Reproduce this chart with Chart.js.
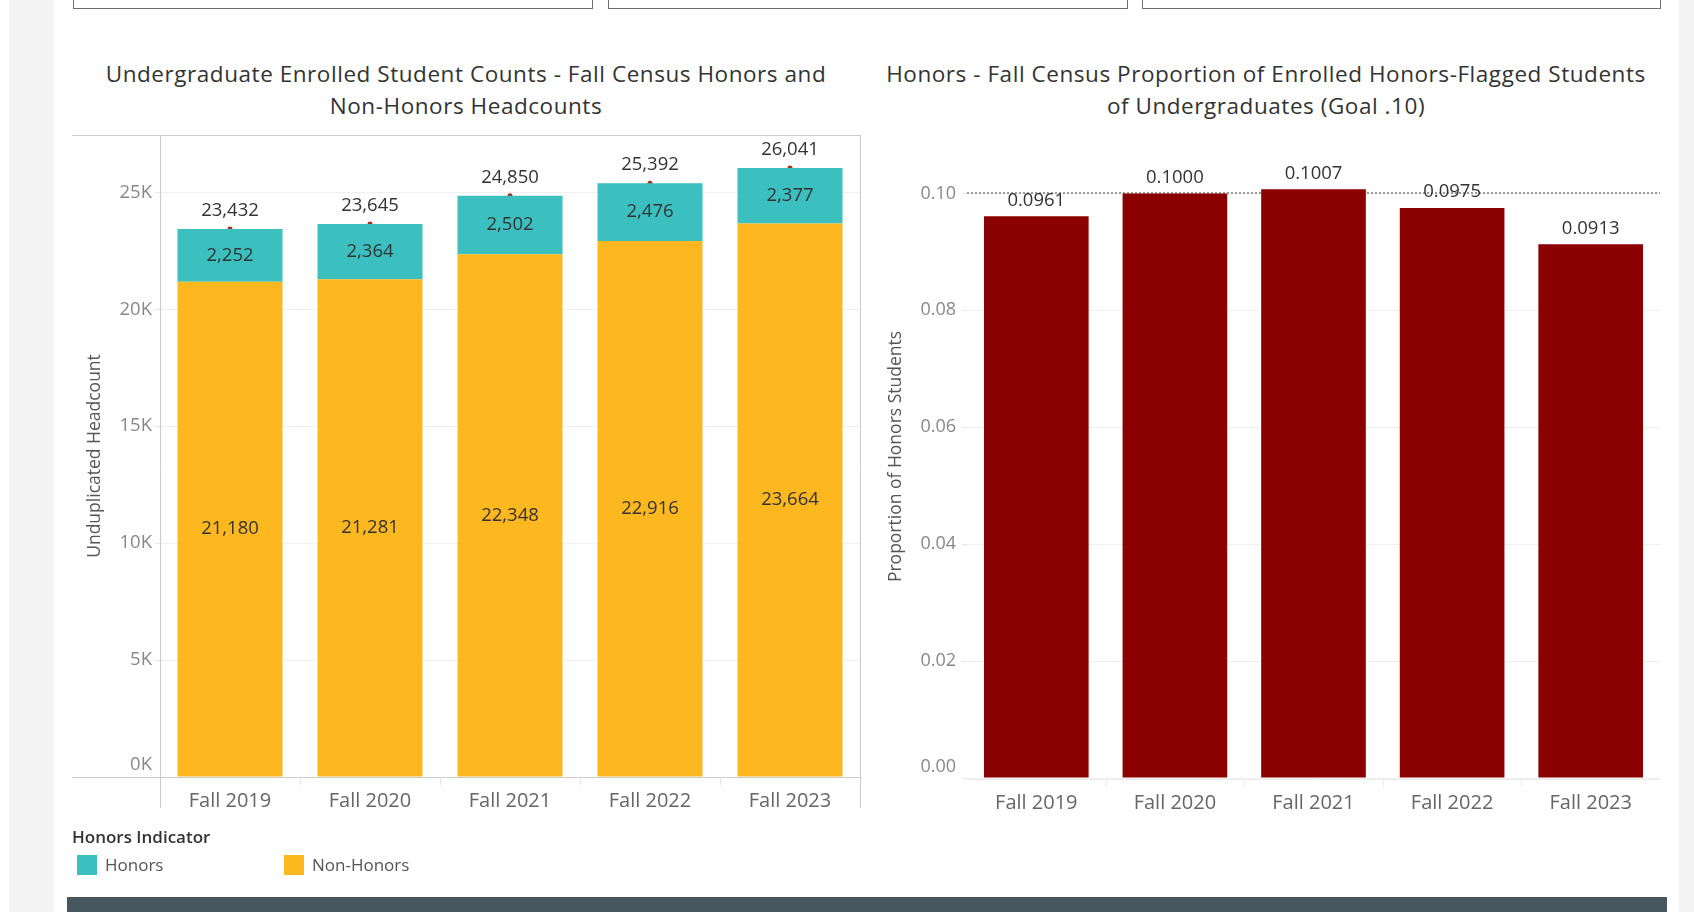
<!DOCTYPE html>
<html>
<head>
<meta charset="utf-8">
<title>Honors Enrollment</title>
<script src="https://cdn.jsdelivr.net/npm/chart.js"></script>
<style>
  body { margin: 0; width: 1694px; height: 912px; background: #fff; position: relative; overflow: hidden; font-family: "Open Sans", sans-serif; }
  .strip { position: absolute; top: 0; height: 912px; background: #f4f4f4; }
  .filter { position: absolute; top: -30px; height: 39px; border: 1.5px solid #6e6e6e; border-top: none; box-sizing: border-box; }
  .title { position: absolute; top: 58px; width: 820px; text-align: center; font-size: 22.5px; letter-spacing: 0.55px; line-height: 32px; color: #333; }
  canvas { position: absolute; }
  .legend-title { position: absolute; left: 72px; top: 825px; font-size: 17px; font-weight: 600; color: #333; }
  .legend-item { position: absolute; top: 855px; height: 20px; line-height: 20px; font-size: 17px; color: #555; }
  .legend-item span { display: inline-block; width: 20px; height: 20px; vertical-align: top; margin-right: 8px; }
  .footer { position: absolute; left: 67px; top: 897px; width: 1600px; height: 15px; background: #46575f; }
</style>
</head>
<body>
  <div class="strip" style="left:9px; width:45px;"></div>
  <div class="strip" style="left:1679px; width:15px;"></div>
  <div class="filter" style="left:73px; width:520px;"></div>
  <div class="filter" style="left:608px; width:520px;"></div>
  <div class="filter" style="left:1142px; width:519px;"></div>

  <div class="title" style="left:56px;">Undergraduate Enrolled Student Counts - Fall Census Honors and<br>Non-Honors Headcounts</div>
  <div class="title" style="left:856px;">Honors - Fall Census Proportion of Enrolled Honors-Flagged Students<br>of Undergraduates (Goal .10)</div>

  <canvas id="countChart" width="810" height="790" style="left:60px; top:40px;"></canvas>
  <canvas id="propChart" width="810" height="790" style="left:870px; top:40px;"></canvas>

  <div class="legend-title">Honors Indicator</div>
  <div class="legend-item" style="left:77px;"><span style="background:#3bbfbf;"></span>Honors</div>
  <div class="legend-item" style="left:284px;"><span style="background:#fdb71f;"></span>Non-Honors</div>

  <div class="footer"></div>

<script>
const years = ['Fall 2019', 'Fall 2020', 'Fall 2021', 'Fall 2022', 'Fall 2023'];
const honors = [2252, 2364, 2502, 2476, 2377];
const nonHonors = [21180, 21281, 22348, 22916, 23664];
const totals = [23432, 23645, 24850, 25392, 26041];
const countTicks = [0, 5000, 10000, 15000, 20000, 25000];
const proportion = [0.0961, 0.1000, 0.1007, 0.0975, 0.0913];
const propTicks = [0, 0.02, 0.04, 0.06, 0.08, 0.10];
const goal = 0.10;

const FONT = '"Open Sans", sans-serif';
Chart.defaults.font.family = FONT;
Chart.defaults.animation = false;

const fmt = v => v.toLocaleString('en-US');

// frame, header lines and value labels for the headcount chart
const countDecor = {
  id: 'countDecor',
  beforeDatasetsDraw(chart) {
    const { ctx, chartArea: a } = chart;
    ctx.save();
    ctx.strokeStyle = '#cbcbcb';
    ctx.lineWidth = 1;
    ctx.beginPath();
    ctx.moveTo(12, a.top + 0.5); ctx.lineTo(a.right, a.top + 0.5);
    ctx.moveTo(12, a.bottom + 0.5); ctx.lineTo(a.right, a.bottom + 0.5);
    ctx.moveTo(a.left + 0.5, a.top); ctx.lineTo(a.left + 0.5, 768);
    ctx.moveTo(a.right + 0.5, a.top); ctx.lineTo(a.right + 0.5, 768);
    ctx.stroke();
    const x = chart.scales.x;
    ctx.strokeStyle = '#e4e4e4';
    ctx.beginPath();
    for (let i = 1; i < years.length; i++) {
      const px = Math.round((x.getPixelForValue(i - 1) + x.getPixelForValue(i)) / 2) + 0.5;
      ctx.moveTo(px, a.bottom); ctx.lineTo(px, a.bottom + 8);
    }
    ctx.stroke();
    ctx.restore();
  },
  afterDatasetsDraw(chart) {
    const { ctx } = chart;
    ctx.save();
    ctx.font = '18.5px ' + FONT;
    ctx.fillStyle = '#333';
    ctx.textAlign = 'center';
    ctx.textBaseline = 'middle';
    [0, 1].forEach(di => {
      chart.getDatasetMeta(di).data.forEach((bar, i) => {
        ctx.fillText(fmt(chart.data.datasets[di].data[i]), bar.x, (bar.y + bar.base) / 2);
      });
    });
    chart.getDatasetMeta(2).data.forEach((pt, i) => {
      ctx.fillText(fmt(totals[i]), pt.x, pt.y - 18);
    });
    // zero tick label sits just above the baseline
    const y = chart.scales.y;
    ctx.font = '18.5px ' + FONT;
    ctx.fillStyle = '#888';
    ctx.textAlign = 'right';
    ctx.fillText('0K', y.right - 8, y.getPixelForValue(0) - 12);
    ctx.restore();
  }
};

new Chart(document.getElementById('countChart'), {
  type: 'bar',
  data: {
    labels: years,
    datasets: [
      { label: 'Non-Honors', data: nonHonors, backgroundColor: '#fdb71f', stack: 'hc' },
      { label: 'Honors', data: honors, backgroundColor: '#3bbfbf', stack: 'hc' },
      { type: 'line', label: 'Total', data: totals, stack: 'total', showLine: false,
        pointRadius: 2.5, pointBackgroundColor: '#a3321a', pointBorderWidth: 0 }
    ]
  },
  options: {
    responsive: false,
    layout: { padding: { top: 95, right: 10, left: 0, bottom: 0 } },
    plugins: { legend: { display: false }, tooltip: { enabled: false } },
    datasets: { bar: { barPercentage: 0.75, categoryPercentage: 1 } },
    scales: {
      x: {
        stacked: true,
        grid: { display: false },
        border: { display: false },
        ticks: { color: '#666', font: { size: 20 }, padding: 4 },
        afterFit: s => { s.height = 53; }
      },
      y: {
        stacked: true,
        min: 0, max: 27450,
        afterBuildTicks: s => { s.ticks = countTicks.map(v => ({ value: v })); },
        grid: { color: '#efefef', tickLength: 5, tickColor: '#e6e6e6' },
        border: { display: false },
        ticks: {
          color: '#888', font: { size: 18.5 }, padding: 3,
          callback: v => v === 0 ? '' : (v / 1000) + 'K'
        },
        title: { display: true, text: 'Unduplicated Headcount', color: '#555',
          font: { size: 17.5 }, padding: { top: 25, bottom: 0 } },
        afterFit: s => { s.width = 100; }
      }
    }
  },
  plugins: [countDecor]
});

// goal line, baseline and value labels for the proportion chart
const propDecor = {
  id: 'propDecor',
  beforeDatasetsDraw(chart) {
    const { ctx, chartArea: a } = chart;
    const y = chart.scales.y;
    const x = chart.scales.x;
    ctx.save();
    ctx.strokeStyle = '#ececec';
    ctx.lineWidth = 1;
    ctx.beginPath();
    ctx.moveTo(a.left, a.bottom + 1.5); ctx.lineTo(a.right, a.bottom + 1.5);
    for (let i = 1; i < years.length; i++) {
      const px = Math.round((x.getPixelForValue(i - 1) + x.getPixelForValue(i)) / 2) + 0.5;
      ctx.moveTo(px, a.bottom); ctx.lineTo(px, a.bottom + 8);
    }
    ctx.stroke();
    ctx.strokeStyle = '#9a9a9a';
    ctx.lineWidth = 2;
    ctx.setLineDash([2, 2]);
    ctx.beginPath();
    const gy = Math.round(y.getPixelForValue(goal));
    ctx.moveTo(a.left, gy); ctx.lineTo(a.right, gy);
    ctx.stroke();
    ctx.restore();
  },
  afterDatasetsDraw(chart) {
    const { ctx } = chart;
    ctx.save();
    ctx.font = '18.5px ' + FONT;
    ctx.fillStyle = '#333';
    ctx.textAlign = 'center';
    ctx.textBaseline = 'middle';
    chart.getDatasetMeta(0).data.forEach((bar, i) => {
      ctx.fillText(proportion[i].toFixed(4), bar.x, bar.y - 16);
    });
    const y = chart.scales.y;
    ctx.font = '18px ' + FONT;
    ctx.fillStyle = '#888';
    ctx.textAlign = 'right';
    ctx.fillText('0.00', y.right - 11, y.getPixelForValue(0) - 11);
    ctx.restore();
  }
};

new Chart(document.getElementById('propChart'), {
  type: 'bar',
  data: {
    labels: years,
    datasets: [
      { label: 'Proportion of Honors Students', data: proportion, backgroundColor: '#8b0000',
        barPercentage: 0.755, categoryPercentage: 1 }
    ]
  },
  options: {
    responsive: false,
    layout: { padding: { top: 95, right: 20, left: 0, bottom: 0 } },
    plugins: { legend: { display: false }, tooltip: { enabled: false } },
    scales: {
      x: {
        grid: { display: false },
        border: { display: false },
        ticks: { color: '#666', font: { size: 20 }, padding: 5 },
        afterFit: s => { s.height = 52; }
      },
      y: {
        min: 0, max: 0.11,
        afterBuildTicks: s => { s.ticks = propTicks.map(v => ({ value: v })); },
        grid: { color: '#efefef', tickLength: 5, tickColor: '#e6e6e6' },
        border: { display: false },
        ticks: {
          color: '#888', font: { size: 18 }, padding: 6,
          callback: v => v === 0 ? '' : v.toFixed(2)
        },
        title: { display: true, text: 'Proportion of Honors Students', color: '#555',
          font: { size: 17.5 }, padding: { top: 16, bottom: 0 } },
        afterFit: s => { s.width = 97; }
      }
    }
  },
  plugins: [propDecor]
});
</script>
</body>
</html>
